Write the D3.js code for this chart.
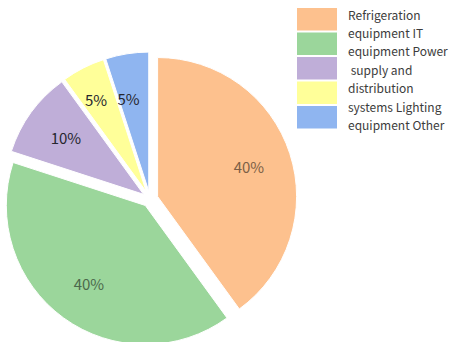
<!DOCTYPE html>
<html>
<head>
<meta charset="utf-8">
<script src="https://cdn.jsdelivr.net/npm/d3@7"></script>
<style>
  html, body { margin: 0; padding: 0; background: #fff; }
  svg { display: block; }
</style>
</head>
<body>
<svg id="chart" width="450" height="342"></svg>
<script>
const categories = ["Refrigeration equipment", "IT equipment", "Power supply and distribution systems", "Lighting equipment", "Other"];
const values = [40, 40, 10, 5, 5];
const labels = ["40%", "40%", "10%", "5%", "5%"];
const colors = ["#fdc18e", "#9bd69b", "#bfaed8", "#ffff99", "#8fb5f0"];
const legendLines = ["Refrigeration", "equipment IT", "equipment Power", " supply and", "distribution", "systems Lighting", "equipment Other"];

const svg = d3.select("#chart");
const font = "'Noto Sans CJK SC', 'Noto Sans', sans-serif";

const cx = 150, cy = 199, R = 139, explode = 8, labelR = 96;

const pie = d3.pie().sort(null).value(d => d).startAngle(0).endAngle(2 * Math.PI);
const arcs = pie(values);
const arc = d3.arc().innerRadius(0).outerRadius(R);

const g = svg.append("g").attr("transform", `translate(${cx},${cy})`);

const slices = g.selectAll("g.slice").data(arcs).enter().append("g")
  .attr("class", "slice")
  .attr("transform", d => {
    const a = (d.startAngle + d.endAngle) / 2;
    return `translate(${explode * Math.sin(a)},${-explode * Math.cos(a)})`;
  });

slices.append("path")
  .attr("d", arc)
  .attr("fill", (d, i) => colors[i])
  .attr("stroke", "#fff")
  .attr("stroke-width", 1);

// Label positions: along the slice's mid-angle; narrow neighbouring labels are nudged apart
const labelPos = arcs.map(d => {
  const a = (d.startAngle + d.endAngle) / 2;
  return { x: labelR * Math.sin(a), y: -labelR * Math.cos(a), small: d.endAngle - d.startAngle < 0.5 };
});
// align adjacent small labels on one row, side by side
const smalls = labelPos.filter(p => p.small && Math.abs(p.y) > 80);
if (smalls.length === 2) {
  const yRow = d3.mean(smalls, p => p.y) - 2;
  const mid = d3.mean(smalls, p => p.x) - 6;
  smalls.forEach(p => p.y = yRow);
  smalls[0].x = mid - 15; smalls[1].x = mid + 15;
}

slices.append("text")
  .attr("x", (d, i) => labelPos[i].x)
  .attr("y", (d, i) => labelPos[i].y)
  .attr("text-anchor", "middle")
  .attr("dominant-baseline", "central")
  .attr("font-family", font)
  .attr("font-size", 15)
  .attr("fill", (d, i) => values[i] >= 20 ? d3.color(colors[i]).darker(2).formatHex() : "#26262e")
  .text((d, i) => labels[i]);

// Legend
const lg = svg.append("g");
lg.selectAll("rect").data(categories).enter().append("rect")
  .attr("x", 297)
  .attr("y", (d, i) => 8 + i * 24.5)
  .attr("width", 40)
  .attr("height", 22.5)
  .attr("fill", (d, i) => colors[i]);

lg.selectAll("text").data(legendLines).enter().append("text")
  .attr("x", 348)
  .attr("y", (d, i) => 14 + i * 18.4)
  .attr("dominant-baseline", "central")
  .attr("font-family", font)
  .attr("font-size", 12)
  .attr("fill", "#3c3c3c")
  .attr("xml:space", "preserve")
  .style("white-space", "pre")
  .text(d => d);
</script>
</body>
</html>
